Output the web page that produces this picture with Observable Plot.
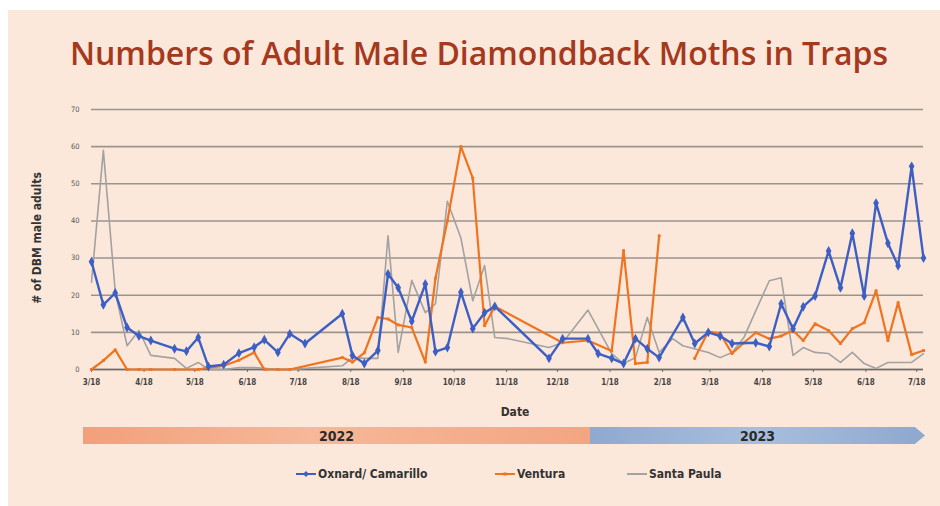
<!DOCTYPE html>
<html>
<head>
<meta charset="utf-8">
<script src="https://cdn.jsdelivr.net/npm/d3@7"></script>
<script src="https://cdn.jsdelivr.net/npm/@observablehq/plot@0.6"></script>
<style>
  html, body { margin: 0; padding: 0; background: #ffffff; }
  #page { position: relative; width: 940px; height: 506px; overflow: hidden; font-family: "Liberation Sans Narrow", "DejaVu Sans Condensed", "Arial Narrow", sans-serif; font-stretch: condensed; }
  #panel { position: absolute; left: 8px; top: 10px; width: 932px; height: 496px; background: #fce8da; }
  #title { position: absolute; left: 0; width: 958px; top: 31px; text-align: center; font-family: "Open Sans", sans-serif; font-stretch: normal; font-weight: 600; font-size: 32px; color: #a5391e; white-space: nowrap; }
  #chart { position: absolute; left: 0; top: 96px; }
  #ylabel { position: absolute; left: 37px; top: 238px; transform: translate(-50%, -50%) rotate(-90deg); font-weight: bold; font-size: 12px; color: #333; white-space: nowrap; }
  #xlabel { position: absolute; left: 515px; top: 412px; transform: translate(-50%, -50%); font-weight: bold; font-size: 12px; color: #333; }
  .bar { position: absolute; top: 427px; height: 17px; display: flex; align-items: center; justify-content: center; font-weight: bold; font-size: 14px; color: #2a2a2a; }
  #bar22 { left: 83px; width: 507px; background: linear-gradient(90deg, #f2a07a 0%, #f6b898 45%, #f3a581 100%); }
  #bar23 { left: 590px; width: 335px; background: linear-gradient(90deg, #8fa9cf 0%, #a8bedc 50%, #8ea8ce 100%); clip-path: polygon(0 0, 97% 0, 100% 50%, 97% 100%, 0 100%); }
  #legend { position: absolute; top: 466px; left: 0; width: 940px; height: 16px; }
  .item { position: absolute; display: flex; align-items: center; font-weight: bold; font-size: 12px; color: #333; white-space: nowrap; }
  .item svg { margin-right: 2px; }
</style>
</head>
<body>
<div id="page">
  <div id="panel"></div>
  <div id="title">Numbers of Adult Male Diamondback Moths in Traps</div>
  <div id="chart"></div>
  <div id="ylabel"># of DBM male adults</div>
  <div id="xlabel">Date</div>
  <div class="bar" id="bar22">2022</div>
  <div class="bar" id="bar23">2023</div>
  <div id="legend"></div>
</div>
<script>
// ---- data ----
const dates = [
  "2022-03-18","2022-03-25","2022-04-01","2022-04-08","2022-04-15","2022-04-22","2022-05-06","2022-05-13",
  "2022-05-20","2022-05-26","2022-06-04","2022-06-13","2022-06-22","2022-06-28","2022-07-06","2022-07-13",
  "2022-07-22","2022-08-13","2022-08-19","2022-08-26","2022-09-03","2022-09-09","2022-09-15","2022-09-23",
  "2022-10-01","2022-10-07","2022-10-14","2022-10-22","2022-10-29","2022-11-05","2022-11-11","2022-11-19",
  "2022-12-13","2022-12-21","2023-01-05","2023-01-11","2023-01-19","2023-01-26","2023-02-02","2023-02-09",
  "2023-02-16","2023-02-24","2023-03-02","2023-03-09","2023-03-17","2023-03-24","2023-03-31","2023-04-07",
  "2023-04-14","2023-04-22","2023-04-29","2023-05-06","2023-05-12","2023-05-19","2023-05-27","2023-06-03",
  "2023-06-10","2023-06-17","2023-06-24","2023-07-01","2023-07-07","2023-07-15","2023-07-22"
];
// null = no reading at that date; NaN = break in the line
const oxnard = [29,17.4,20.6,11.3,9,7.8,5.6,4.9,8.6,0.8,1.3,4.4,6,8,4.6,9.6,7,15,3.8,1.6,5.1,25.7,22,13,23,4.8,5.9,20.8,11,15.3,17,null,3,8.3,8.3,4.3,3,1.6,8.3,5.6,3.2,null,14,7,10,9,7,null,7.2,6.2,17.7,11,16.9,19.8,31.9,22,36.7,19.8,44.8,34,27.9,54.7,30];
const ventura = [0,2.4,5.3,0,0,0,0,null,0,0.5,1,2.5,4.6,0,0,0,null,3.2,2,4.5,14,13.6,12,11.3,2,24.6,40,60,51.5,11.8,17,null,null,7.2,7.8,null,5,32,1.6,1.9,36,NaN,null,3,10.2,9.7,4.3,7.2,9.9,8.3,9,10.5,7.8,12.3,10.5,7,11,12.6,21.2,7.8,18,4,5.1];
const santaPaula = [23.5,59,21,6.4,10.5,3.8,3,0.3,1.9,0,0,0.5,0.5,0.3,0,0,0.3,1,3.2,3,3,36,4.6,24,15.3,17.7,45.3,35.4,18.5,28,8.6,8.3,5.9,7.2,16,null,4.3,1.6,3.2,14,4.6,8.3,6.4,null,4.6,3.2,4.6,8.6,15.8,23.9,24.7,3.8,5.9,4.6,4.3,1.9,4.6,1.6,0.3,1.9,1.9,1.9,4.3];
const seriesNames = ["Oxnard/ Camarillo", "Ventura", "Santa Paula"];
const seriesColors = ["#3d5fc4", "#f0731f", "#a2a2a2"];
const tickDates = ["2022-03-18","2022-04-18","2022-05-18","2022-06-18","2022-07-18","2022-08-18","2022-09-18","2022-10-18","2022-11-18","2022-12-18","2023-01-18","2023-02-18","2023-03-18","2023-04-18","2023-05-18","2023-06-18","2023-07-18"];
const tickLabels = ["3/18","4/18","5/18","6/18","7/18","8/18","9/18","10/18","11/18","12/18","1/18","2/18","3/18","4/18","5/18","6/18","7/18"];
const yTicks = [0,10,20,30,40,50,60,70];

// ---- build ----
const rows = values => dates.map((d, i) => ({date: new Date(d), v: values[i]})).filter(r => r.v !== null);
const oxRows = rows(oxnard), veRows = rows(ventura), spRows = rows(santaPaula);
const tDates = tickDates.map(d => new Date(d));
const labelOf = new Map(tDates.map((d, i) => [+d, tickLabels[i]]));
const font = '"Liberation Sans Narrow", "DejaVu Sans Condensed", "Arial Narrow", sans-serif';

const chart = Plot.plot({
  width: 940, height: 300,
  marginLeft: 91, marginRight: 17, marginTop: 13, marginBottom: 27,
  style: {background: "transparent", fontFamily: font, overflow: "visible"},
  x: {type: "utc", domain: [new Date(dates[0]), new Date(dates[dates.length - 1])]},
  y: {domain: [0, 70]},
  marks: [
    Plot.gridY(yTicks, {stroke: "#9a948f", strokeOpacity: 1, strokeWidth: 1.6}),
    Plot.axisY(yTicks, {tickSize: 0, tickPadding: 12, fontSize: 7.5, fill: "#555", label: null}),
    Plot.ruleY([0], {stroke: "#6f6a66", strokeWidth: 1.6}),
    Plot.axisX(tDates, {tickFormat: d => labelOf.get(+d), tickSize: 3, tickPadding: 7, fontSize: 8, fontWeight: "bold", fill: "#444", stroke: "#6f6a66", label: null}),
    Plot.line(spRows, {x: "date", y: "v", stroke: seriesColors[2], strokeWidth: 1.6}),
    Plot.line(veRows, {x: "date", y: "v", stroke: seriesColors[1], strokeWidth: 2.2}),
    Plot.dot(veRows, {x: "date", y: "v", fill: seriesColors[1], r: 1.6, symbol: "square"}),
    Plot.line(oxRows, {x: "date", y: "v", stroke: seriesColors[0], strokeWidth: 2.4}),
    Plot.dot(oxRows, {x: "date", y: "v", fill: seriesColors[0], r: 3, symbol: "diamond"})
  ]
});
document.getElementById("chart").appendChild(chart);

// legend
const legendX = [296, 495, 627];
const legend = document.getElementById("legend");
seriesNames.forEach((name, i) => {
  const item = document.createElement("div");
  item.className = "item";
  item.style.left = legendX[i] + "px";
  const mk = i === 0 ? `<path d="M10 5 L13 8 L10 11 L7 8 Z" fill="${seriesColors[i]}"/>` : (i === 1 ? `<rect x="8.5" y="6.5" width="3" height="3" fill="${seriesColors[i]}"/>` : "");
  item.innerHTML = `<svg width="20" height="16"><line x1="0" y1="8" x2="20" y2="8" stroke="${seriesColors[i]}" stroke-width="2"/>${mk}</svg><span>${name}</span>`;
  legend.appendChild(item);
});
</script>
</body>
</html>
